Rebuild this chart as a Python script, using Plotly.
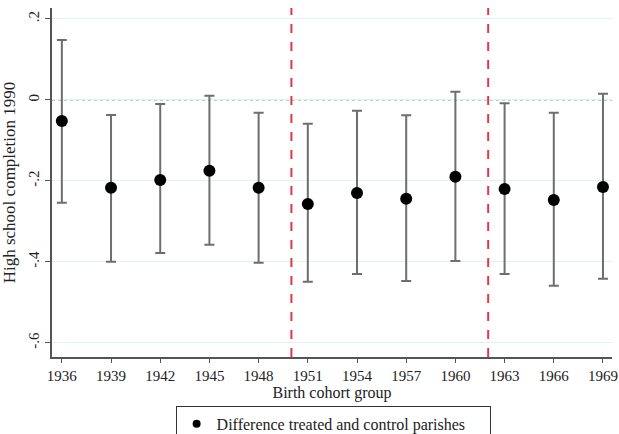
import plotly.graph_objects as go

cohorts = [1936, 1939, 1942, 1945, 1948, 1951, 1954, 1957, 1960, 1963, 1966, 1969]
estimate = [-0.052, -0.217, -0.198, -0.175, -0.217, -0.257, -0.230, -0.244, -0.190, -0.220, -0.247, -0.215]
ci_upper = [0.148, -0.037, -0.010, 0.010, -0.032, -0.059, -0.027, -0.038, 0.020, -0.008, -0.032, 0.015]
ci_lower = [-0.254, -0.400, -0.378, -0.358, -0.402, -0.449, -0.430, -0.447, -0.398, -0.430, -0.459, -0.442]
policy_years = [1950, 1962]
ytick_vals = [0.2, 0, -0.2, -0.4, -0.6]
ytick_text = [".2", "0", "-.2", "-.4", "-.6"]
series_name = "Difference treated and control parishes"

err_plus = [u - e for u, e in zip(ci_upper, estimate)]
err_minus = [e - l for e, l in zip(estimate, ci_lower)]

font = "Liberation Serif"

fig = go.Figure()
fig.add_trace(go.Scatter(
    x=cohorts, y=estimate, mode="markers", name=series_name, showlegend=False,
    marker=dict(color="black", size=12),
    error_y=dict(type="data", symmetric=False, array=err_plus, arrayminus=err_minus,
                 color="#6e6e6e", thickness=2, width=5),
))
# legend entry (smaller marker, as in the reference legend)
fig.add_trace(go.Scatter(
    x=[None], y=[None], mode="markers", name=series_name, showlegend=True,
    marker=dict(color="black", size=8),
))

shapes = [dict(type="line", xref="paper", x0=0, x1=1, yref="y", y0=0, y1=0,
               line=dict(color="#7a7a7a", width=1, dash="dot"), layer="below")]
for yr in policy_years:
    shapes.append(dict(type="line", xref="x", x0=yr, x1=yr, yref="paper", y0=0, y1=1,
                       line=dict(color="#e0364a", width=2, dash="dash")))

fig.update_layout(
    width=619, height=434,
    margin=dict(l=52, r=7, t=8, b=77, autoexpand=False),
    paper_bgcolor="white", plot_bgcolor="white",
    font=dict(family=font, size=15, color="#222"),
    shapes=shapes,
    showlegend=True,
    legend=dict(orientation="h", x=0.502, xanchor="center", y=-0.14, yanchor="top",
                bordercolor="#333", borderwidth=1, bgcolor="white",
                font=dict(family=font, size=16, color="#222"),
                entrywidth=268, entrywidthmode="pixels", itemwidth=30),
    xaxis=dict(range=[1935.4, 1969.55], tickvals=cohorts, ticks="outside", ticklen=4,
               tickcolor="#555", showline=True, linecolor="#555", linewidth=1.5,
               showgrid=False, zeroline=False, tickfont=dict(family=font, size=15),
               automargin=False,
               title=dict(text="Birth cohort group", standoff=0, font=dict(family=font, size=16))),
    yaxis=dict(range=[-0.635, 0.227], tickvals=ytick_vals, ticktext=ytick_text,
               tickangle=-90, ticks="outside", ticklen=5, tickcolor="#555",
               showline=True, linecolor="#555", linewidth=1.5,
               showgrid=True, gridcolor="#e3f1f1", gridwidth=1, zeroline=False,
               tickfont=dict(family=font, size=15), automargin=False,
               title=dict(text="High school completion 1990", standoff=6,
                          font=dict(family=font, size=17))),
)

fig.write_html("out.html")
